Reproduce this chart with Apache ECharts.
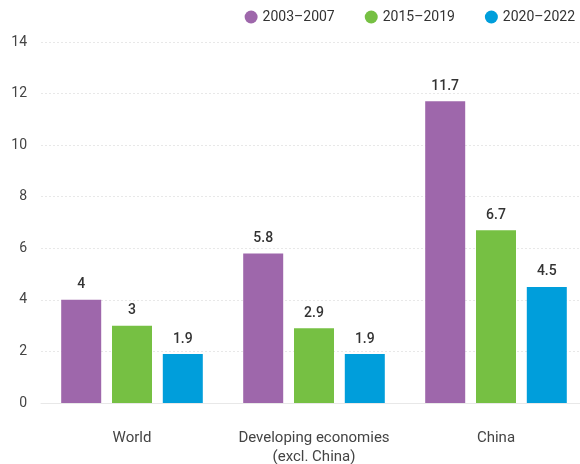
<!DOCTYPE html>
<html><head><meta charset="utf-8">
<script src="https://cdn.jsdelivr.net/npm/echarts@6/dist/echarts.min.js"></script>
<style>html,body{margin:0;padding:0;background:#fff}#c{width:580px;height:464px}</style>
</head><body><div id="c"></div>
<script>
const categories = ["World", "Developing economies\n(excl. China)", "China"];
const seriesNames = ["2003\u20132007", "2015\u20132019", "2020\u20132022"];
const values2003 = [4, 5.8, 11.7];
const values2015 = [3, 2.9, 6.7];
const values2020 = [1.9, 1.9, 4.5];
const colors = ["#9E67AB", "#76C043", "#009EDB"];
const allValues = [values2003, values2015, values2020];
const chart = echarts.init(document.getElementById('c'), null, {renderer: 'canvas'});
const font = 'Roboto, "Noto Sans", sans-serif';
chart.setOption({
  animation: false,
  textStyle: {fontFamily: font},
  legend: {
    top: 10, right: 5, padding: 0, itemWidth: 13, itemHeight: 13, itemGap: 30, icon: 'circle',
    textStyle: {fontSize: 14, color: '#333', fontFamily: font},
    data: seriesNames
  },
  grid: {left: 41, right: -7, top: 42, bottom: 61, containLabel: false, outerBoundsMode: 'none'},
  xAxis: {
    type: 'category', data: categories,
    axisLine: {show: true, lineStyle: {color: '#e8e8e8'}},
    axisTick: {show: false},
    axisLabel: {interval: 0, fontSize: 15, color: '#444', margin: 26, lineHeight: 19, fontFamily: font}
  },
  yAxis: {
    type: 'value', min: 0, max: 14, interval: 2,
    axisLine: {show: false}, axisTick: {show: false},
    splitLine: {lineStyle: {color: '#e8e8e8', type: [2, 2]}},
    axisLabel: {fontSize: 14, color: '#444', margin: 14, fontFamily: font}
  },
  series: seriesNames.map((n, i) => ({
    name: n, type: 'bar', data: allValues[i], barWidth: 40, barGap: '27%',
    itemStyle: {color: colors[i]},
    label: {show: true, position: 'top', distance: 8, fontSize: 14, fontWeight: 500, color: '#333', fontFamily: font}
  }))
});
</script></body></html>
